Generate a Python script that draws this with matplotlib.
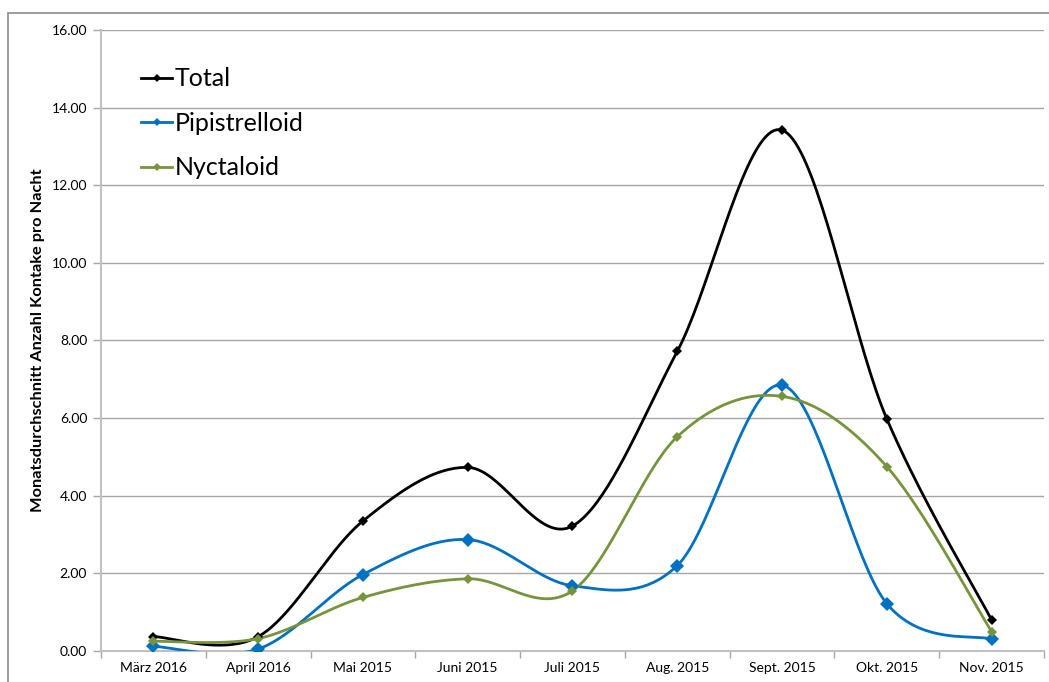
import numpy as np
import matplotlib
matplotlib.use("Agg")
import matplotlib.pyplot as plt
from matplotlib.patches import Rectangle

plt.rcParams['font.family'] = ['Lato', 'DejaVu Sans']

months = ["März 2016", "April 2016", "Mai 2015", "Juni 2015", "Juli 2015",
          "Aug. 2015", "Sept. 2015", "Okt. 2015", "Nov. 2015"]
total = [0.37, 0.37, 3.35, 4.73, 3.22, 7.72, 13.42, 5.98, 0.80]
pipistrelloid = [0.12, 0.05, 1.97, 2.87, 1.68, 2.20, 6.85, 1.22, 0.30]
nyctaloid = [0.25, 0.32, 1.38, 1.86, 1.55, 5.52, 6.56, 4.75, 0.50]
y_ticks = [0, 2, 4, 6, 8, 10, 12, 14, 16]


def smooth(xs, ys, n=40):
    """Bezier smoothing through every point (Catmull-Rom style control points)."""
    xs = np.asarray(xs, float)
    ys = np.asarray(ys, float)
    P = np.column_stack([xs, ys])
    ext = np.vstack([P[0], P, P[-1]])
    out = [P[0]]
    t = np.linspace(0, 1, n)[1:]
    for i in range(len(P) - 1):
        p0, p1, p2, p3 = ext[i], ext[i + 1], ext[i + 2], ext[i + 3]
        c1 = p1 + (p2 - p0) / 6.0
        c2 = p2 - (p3 - p1) / 6.0
        seg = ((1 - t) ** 3)[:, None] * p1 + (3 * (1 - t) ** 2 * t)[:, None] * c1 \
            + (3 * (1 - t) * t ** 2)[:, None] * c2 + (t ** 3)[:, None] * p2
        out.extend(seg)
    out = np.array(out)
    return out[:, 0], out[:, 1]


fig = plt.figure(figsize=(10.49, 6.82), dpi=100)
ax = fig.add_axes([0.0963, 0.0455, 0.8989, 0.9105])

x = np.arange(len(months))
series = [
    ("Total", total, "#000000", 5.3),
    ("Pipistrelloid", pipistrelloid, "#0070C0", 6.8),
    ("Nyctaloid", nyctaloid, "#77933C", 5.3),
]
for name, vals, col, ms in series:
    sx, sy = smooth(x, vals)
    ax.plot(sx, sy, color=col, lw=2.0, zorder=3)
    ax.plot(x, vals, linestyle="none", marker="D", ms=ms, mew=0, color=col, zorder=4)
    ax.plot([], [], color=col, lw=2.0, marker="D", ms=4, mew=0, label=name)

ax.set_xlim(-0.5, len(months) - 0.5)
ax.set_ylim(0, 16)
ax.set_yticks(y_ticks)
ax.set_yticklabels([f"{v:.2f}" for v in y_ticks])
ax.set_xticks(x)
ax.set_xticklabels(months)
ax.set_xticks(np.arange(-0.5, len(months)), minor=True)
ax.tick_params(axis="x", which="major", length=0, pad=8, labelsize=10)
ax.tick_params(axis="x", which="minor", length=5, color="#a6a6a6", width=1)
ax.tick_params(axis="y", length=6, color="#a6a6a6", width=1, pad=4, labelsize=10)
ax.grid(axis="y", color="#a6a6a6", lw=1)
ax.set_axisbelow(True)
for s in ["top", "right"]:
    ax.spines[s].set_visible(False)
ax.spines["left"].set_color("#c0c0c0")
ax.spines["bottom"].set_color("#c0c0c0")
ax.spines["left"].set_linewidth(1.5)
ax.spines["bottom"].set_linewidth(1.5)

ax.set_ylabel("Monatsdurchschnitt Anzahl Kontake pro Nacht", fontsize=11.8,
              fontweight="bold", labelpad=5)

leg = ax.legend(loc="upper left", bbox_to_anchor=(0.0186, 0.976), frameon=False,
                fontsize=18, handlelength=1.24, handletextpad=0.12,
                labelspacing=0.86)

fig.patches.append(Rectangle((8 / 1049, -0.1), 1.2, 1 - 13 / 682 + 0.1,
                             transform=fig.transFigure, fill=False,
                             edgecolor="#8c8c8c", lw=1.2))

fig.savefig("out.png", dpi=100)
